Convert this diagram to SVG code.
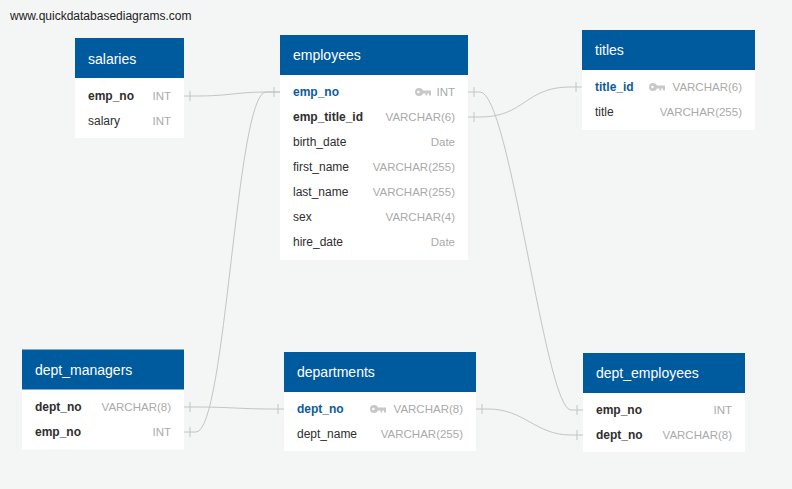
<svg xmlns="http://www.w3.org/2000/svg" width="792" height="489" viewBox="0 0 792 489">
<defs>
<style>
.bg{fill:#f4f5f5}
.hd{fill:#005a9e}
.bd{fill:#ffffff}
.tt{font-family:"Liberation Sans",Arial,sans-serif;font-size:14px;fill:#ffffff}
.nm{font-family:"Liberation Sans",Arial,sans-serif;font-size:12px;fill:#2e2e2e}
.fk{font-weight:bold}
.pk{font-weight:bold;fill:#0d5a9e}
.ty{font-family:"Liberation Sans",Arial,sans-serif;font-size:11.5px;fill:#aaaaaa;text-anchor:end}
.wm{font-family:"Liberation Sans",Arial,sans-serif;font-size:12px;fill:#222222}
.ln{fill:none;stroke:#c4c4c4;stroke-width:1}
.tk{stroke:#c4c4c4;stroke-width:1}
.key{fill:#c8c8c8}
</style>
<g id="keyicon">
<circle cx="4" cy="0" r="4" class="key"/>
<circle cx="3.4" cy="0" r="1.3" fill="#ffffff"/>
<rect x="7" y="-1.5" width="9" height="3" class="key"/>
<rect x="10.5" y="0" width="1.8" height="3.5" class="key"/>
<rect x="14" y="0" width="2" height="3.5" class="key"/>
</g>
</defs>
<rect class="bg" x="0" y="0" width="792" height="489"/>
<text class="wm" x="10" y="20">www.quickdatabasediagrams.com</text>

<g id="connectors">
<path class="ln" d="M184,96 L196,96 C230,96 236,92 268,92 L280,92"/>
<path class="ln" d="M184,432 L196,432 C226,432 236,92 266,92 L280,92"/>
<path class="ln" d="M468,92 L480,92 C510,92 545,410 571,410 L583,410"/>
<path class="ln" d="M468,117 L480,117 C525,117 525,87 570,87 L582,87"/>
<path class="ln" d="M184,407 L196,407 C230,407 240,409 272,409 L284,409"/>
<path class="ln" d="M476,409 L488,409 C525,409 535,435 571,435 L583,435"/>
<line class="tk" x1="190" y1="91" x2="190" y2="101"/>
<line class="tk" x1="274" y1="87" x2="274" y2="97"/>
<line class="tk" x1="190" y1="427" x2="190" y2="437"/>
<line class="tk" x1="474" y1="87" x2="474" y2="97"/>
<line class="tk" x1="577" y1="405" x2="577" y2="415"/>
<line class="tk" x1="474" y1="112" x2="474" y2="122"/>
<line class="tk" x1="576" y1="82" x2="576" y2="92"/>
<line class="tk" x1="190" y1="402" x2="190" y2="412"/>
<line class="tk" x1="278" y1="404" x2="278" y2="414"/>
<line class="tk" x1="482" y1="404" x2="482" y2="414"/>
<line class="tk" x1="577" y1="430" x2="577" y2="440"/>
</g>

<g id="salaries">
<rect class="bd" x="75" y="38" width="109" height="100"/>
<rect class="hd" x="75" y="38" width="109" height="40"/>
<text class="tt" x="88" y="64">salaries</text>
<text class="nm fk" x="88" y="100">emp_no</text>
<text class="ty" x="171" y="100">INT</text>
<text class="nm" x="88" y="125">salary</text>
<text class="ty" x="171" y="125">INT</text>
</g>

<g id="employees">
<rect class="bd" x="280" y="35" width="188" height="225"/>
<rect class="hd" x="280" y="35" width="188" height="40"/>
<text class="tt" x="293" y="60">employees</text>
<text class="nm pk" x="293" y="96">emp_no</text>
<use href="#keyicon" x="415" y="92"/>
<text class="ty" x="455" y="96">INT</text>
<text class="nm fk" x="293" y="121">emp_title_id</text>
<text class="ty" x="455" y="121">VARCHAR(6)</text>
<text class="nm" x="293" y="146">birth_date</text>
<text class="ty" x="455" y="146">Date</text>
<text class="nm" x="293" y="171">first_name</text>
<text class="ty" x="455" y="171">VARCHAR(255)</text>
<text class="nm" x="293" y="196">last_name</text>
<text class="ty" x="455" y="196">VARCHAR(255)</text>
<text class="nm" x="293" y="221">sex</text>
<text class="ty" x="455" y="221">VARCHAR(4)</text>
<text class="nm" x="293" y="246">hire_date</text>
<text class="ty" x="455" y="246">Date</text>
</g>

<g id="titles">
<rect class="bd" x="582" y="30" width="173" height="100"/>
<rect class="hd" x="582" y="30" width="173" height="40"/>
<text class="tt" x="595" y="55">titles</text>
<text class="nm pk" x="595" y="91">title_id</text>
<use href="#keyicon" x="649" y="87"/>
<text class="ty" x="742" y="91">VARCHAR(6)</text>
<text class="nm" x="595" y="116">title</text>
<text class="ty" x="742" y="116">VARCHAR(255)</text>
</g>

<g id="dept_managers">
<rect class="bd" x="22" y="349.5" width="162" height="100"/>
<rect class="hd" x="22" y="349.5" width="162" height="40"/>
<text class="tt" x="35" y="375">dept_managers</text>
<text class="nm fk" x="35" y="411">dept_no</text>
<text class="ty" x="171" y="411">VARCHAR(8)</text>
<text class="nm fk" x="35" y="436">emp_no</text>
<text class="ty" x="171" y="436">INT</text>
</g>

<g id="departments">
<rect class="bd" x="284" y="352" width="192" height="99"/>
<rect class="hd" x="284" y="352" width="192" height="40"/>
<text class="tt" x="297" y="377">departments</text>
<text class="nm pk" x="297" y="413">dept_no</text>
<use href="#keyicon" x="370" y="409"/>
<text class="ty" x="463" y="413">VARCHAR(8)</text>
<text class="nm" x="297" y="438">dept_name</text>
<text class="ty" x="463" y="438">VARCHAR(255)</text>
</g>

<g id="dept_employees">
<rect class="bd" x="583" y="353" width="162" height="99"/>
<rect class="hd" x="583" y="353" width="162" height="40"/>
<text class="tt" x="596" y="378">dept_employees</text>
<text class="nm fk" x="596" y="414">emp_no</text>
<text class="ty" x="732" y="414">INT</text>
<text class="nm fk" x="596" y="439">dept_no</text>
<text class="ty" x="732" y="439">VARCHAR(8)</text>
</g>
</svg>
